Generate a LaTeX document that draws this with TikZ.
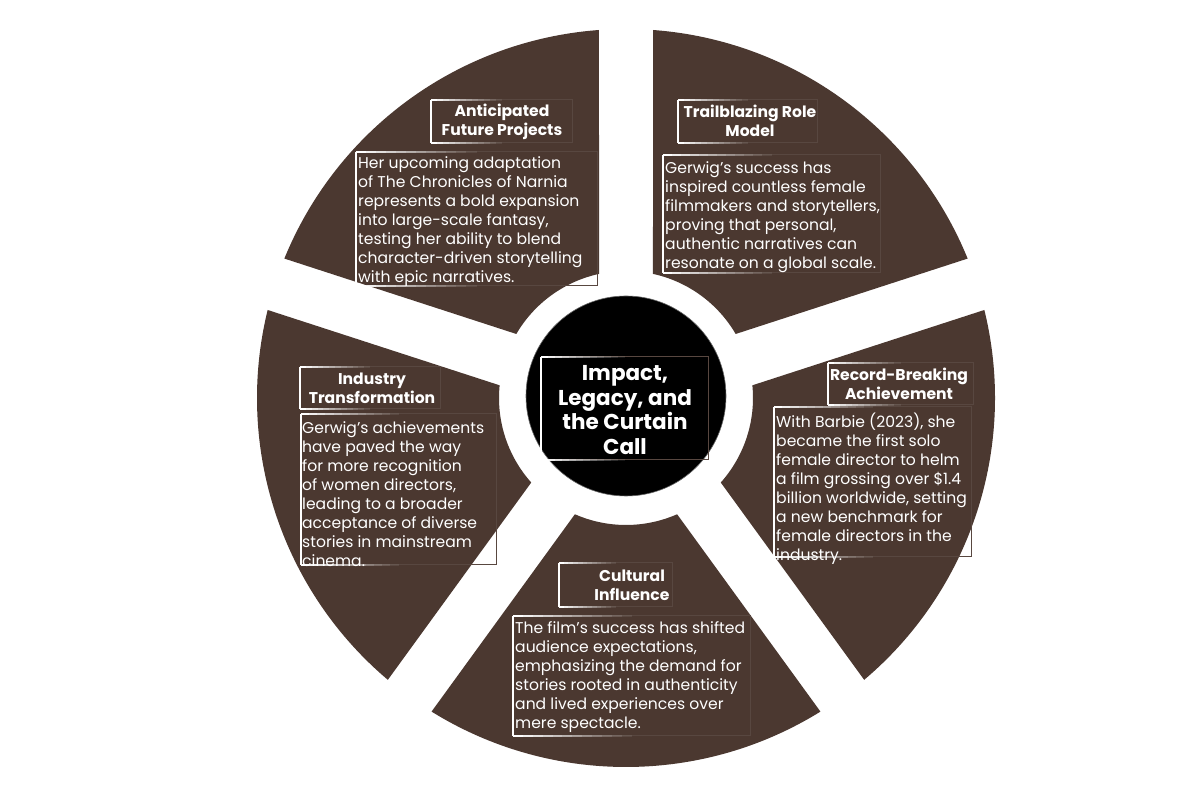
\documentclass[tikz,border=0pt]{standalone}
\usepackage{fontspec}
\setmainfont{Poppins}
\definecolor{wedgebrown}{RGB}{75,56,48}
\definecolor{frameline}{RGB}{88,71,64}
\begin{document}
\begin{tikzpicture}[x=1pt,y=1pt,
  bodytext/.style={text=white, align=left, anchor=north west, inner sep=0pt, font=\fontsize{15.6}{19}\selectfont},
  titletext/.style={text=white, align=center, inner sep=0pt, font=\bfseries\fontsize{15.6}{19}\selectfont},
  hubtext/.style={text=white, align=center, inner sep=0pt, font=\bfseries\fontsize{21.5}{24.7}\selectfont},
  frameback/.style={draw=frameline, line width=1pt},
  framefront/.style={draw=white, line width=1.4pt}]
\useasboundingbox (0,0) rectangle (1200,800);
\fill[white] (0,0) rectangle (1200,800);
\coordinate (C) at (626,402);
% wedges
\foreach \a in {18,90,162,234,306}{
  \pgfmathsetmacro\oa{\a+4.2}
  \pgfmathsetmacro\ob{\a+72-4.2}
  \pgfmathsetmacro\ia{\a+72-12.27}
  \pgfmathsetmacro\ib{\a+12.27}
  \fill[wedgebrown] ([shift={(C)}]\oa:369) arc[start angle=\oa, end angle=\ob, radius=369pt]
    -- ([shift={(C)}]\ia:127) arc[start angle=\ia, end angle=\ib, radius=127pt] -- cycle;
}
% hub
\node[circle, fill=black, draw=black!60, line width=0.6pt, minimum size=200pt, inner sep=0pt] (hub) at (626,404) {};
\newcommand\myframe[4]{%
  \draw[frameback] (#1,#2) rectangle (#3,#4);
  \draw[framefront] (#1,#2) -- (#1,#4);
  \foreach \i in {0,...,11}{%
    \pgfmathsetmacro\xa{#1+(#3-#1)*\i/24}%
    \pgfmathsetmacro\xb{#1+(#3-#1)*(\i+1)/24}%
    \pgfmathsetmacro\op{1-\i/12}%
    \draw[framefront, opacity=\op] (\xa,#2) -- (\xb,#2) (\xa,#4) -- (\xb,#4);
  }}
% frames
\draw[draw=white!70!black, line width=1pt] (541,443) rectangle (708,340);
\myframe{541}{443}{708}{340}
\myframe{431}{700}{572}{657}
\myframe{356}{648}{597}{514}
\myframe{678}{700}{817}{657}
\myframe{663}{645}{880}{527}
\myframe{828}{437}{973}{395}
\myframe{774}{393}{971}{243}
\myframe{300}{433}{440}{391}
\myframe{301}{386}{496}{235}
\myframe{559}{237}{672}{193}
\myframe{513}{184}{750}{64}
% texts
\node[hubtext] (hubtitle) at (625,390) {Impact,\\Legacy, and\\the Curtain\\Call};
\node[titletext] (t1) at (502,678) {Anticipated\\Future Projects};
\node[bodytext] (b1) at (358,644) {Her upcoming adaptation\\of The Chronicles of Narnia\\represents a bold expansion\\into large-scale fantasy,\\testing her ability to blend\\character-driven storytelling\\with epic narratives.};
\node[titletext] (t2) at (750,679) {Trailblazing Role\\Model};
\node[bodytext] (b2) at (665,639) {Gerwig's success has\\inspired countless female\\filmmakers and storytellers,\\proving that personal,\\authentic narratives can\\resonate on a global scale.};
\node[titletext] (t3) at (899,416) {Record-Breaking\\Achievement};
\node[bodytext] (b3) at (776,387) {With Barbie (2023), she\\became the first solo\\female director to helm\\a film grossing over \$1.4\\billion worldwide, setting\\a new benchmark for\\female directors in the\\industry.};
\node[titletext] (t4) at (372,412) {Industry\\Transformation};
\node[bodytext] (b4) at (302,379) {Gerwig’s achievements\\have paved the way\\for more recognition\\of women directors,\\leading to a broader\\acceptance of diverse\\stories in mainstream\\cinema.};
\node[titletext] (t5) at (632,214.5) {Cultural\\Influence};
\node[bodytext] (b5) at (515,179) {The film’s success has shifted\\audience expectations,\\emphasizing the demand for\\stories rooted in authenticity\\and lived experiences over\\mere spectacle.};
\end{tikzpicture}
\end{document}
